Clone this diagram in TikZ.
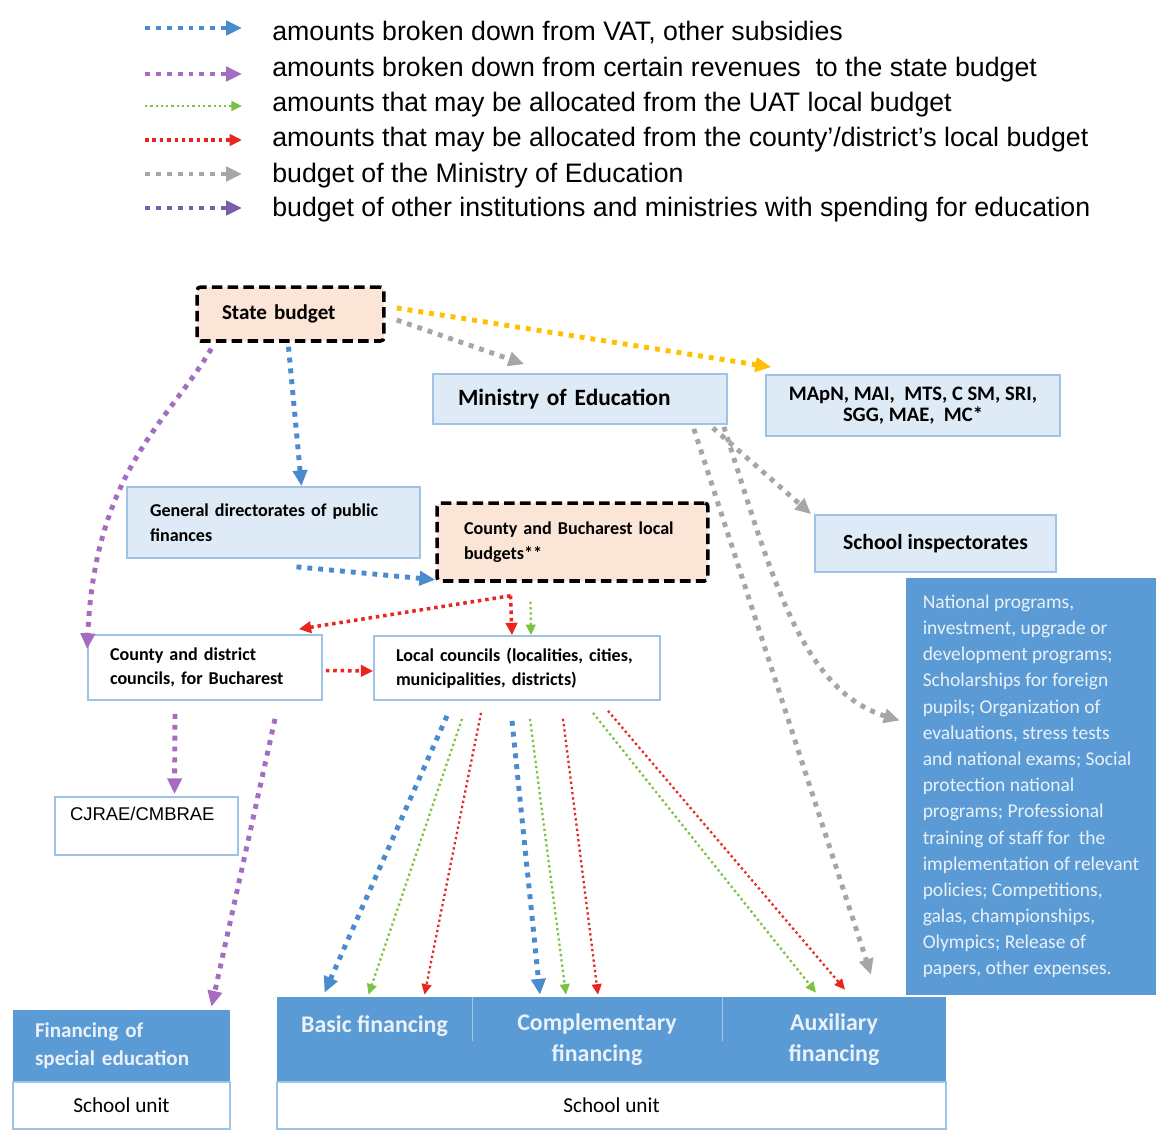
\documentclass[tikz,border=0pt]{standalone}
\usepackage{fontspec}
\setmainfont{Carlito}
\newfontfamily\legendfont{Liberation Sans}
\usetikzlibrary{arrows.meta,calc,positioning}
\definecolor{FlowBlue}{HTML}{4A8BD0}
\definecolor{FlowLilac}{HTML}{A56CC1}
\definecolor{FlowGreen}{HTML}{7CC242}
\definecolor{FlowRed}{HTML}{E8261E}
\definecolor{FlowGray}{HTML}{A6A6A6}
\definecolor{FlowPlum}{HTML}{7A5CAA}
\definecolor{FlowAmber}{HTML}{FFC000}
\definecolor{BoxFill}{HTML}{DEEBF7}
\definecolor{BoxLine}{HTML}{9DC3E6}
\definecolor{Peach}{HTML}{FBE5D6}
\definecolor{StrongBlue}{HTML}{5B9BD5}
\definecolor{PaleText}{HTML}{EAF1F9}
\tikzset{
  every node/.style={font=\bfseries\fontsize{10.3}{14}\selectfont, text=black},
  lightbox/.style={draw=BoxLine, fill=BoxFill, line width=1pt},
  whitebox/.style={draw=BoxLine, fill=white, line width=1pt},
  peachbox/.style={draw=black, fill=Peach, line width=2pt, dash pattern=on 6pt off 3pt, rounded corners=2pt},
  bluebox/.style={fill=StrongBlue, text=PaleText},
  thickflow/.style={line width=2.8pt, dash pattern=on 2.8pt off 3.4pt, -{Triangle[length=9pt,width=8pt]}},
  midflow/.style={line width=2pt, dash pattern=on 2pt off 2.2pt, -{Triangle[length=7pt,width=6.5pt]}},
  thinflow/.style={line width=1.3pt, dash pattern=on 1.3pt off 1.7pt, -{Triangle[length=6pt,width=5.5pt]}},
  vatflow/.style={thickflow, draw=FlowBlue},
  revflow/.style={thickflow, draw=FlowLilac},
  uatflow/.style={thinflow, draw=FlowGreen},
  countyflow/.style={midflow, draw=FlowRed},
  countythin/.style={thinflow, draw=FlowRed},
  mineduflow/.style={thickflow, draw=FlowGray},
  otherflow/.style={thickflow, draw=FlowPlum},
  amberflow/.style={thickflow, draw=FlowAmber},
}

\begin{document}
\begin{tikzpicture}[x=0.02cm,y=-0.02cm]
  \useasboundingbox (0,0) rectangle (1156,1129);
  % legend
  \foreach \n/\ly/\ty/\lstyle/\ltext in {
      1/28/33/vatflow/{amounts broken down from VAT, other subsidies},
      2/74/70/revflow/{amounts broken down from certain revenues\ \ to the state budget},
      3/106/105/uatflow/{amounts that may be allocated from the UAT local budget},
      4/140/140/countyflow/{amounts that may be allocated from the county’/district’s local budget},
      5/174/176/mineduflow/{budget of the Ministry of Education},
      6/208/210/otherflow/{budget of other institutions and ministries with spending for education}} {
    \coordinate (leg\n a) at (145,\ly);
    \coordinate (leg\n b) at (242,\ly);
    \draw[\lstyle] (leg\n a) -- (leg\n b);
    \node[anchor=west, inner sep=0pt, font=\legendfont\fontsize{15.2}{17}\selectfont] (legtext\n) at (272,\ty) {\ltext};
  }

  % budget boxes
  \node[peachbox, minimum width=3.74cm, minimum height=1.08cm, inner xsep=0.5cm, text width=2.74cm, align=left,
        font=\bfseries\fontsize{12}{14}\selectfont] (state) at (290.5,314) {State budget};
  \node[lightbox, minimum width=5.88cm, minimum height=1cm, inner xsep=0.5cm, text width=4.88cm, align=left,
        font=\bfseries\fontsize{13.3}{15}\selectfont] (ministry) at (580,399) {Ministry of Education};
  \node[lightbox, minimum width=5.88cm, minimum height=1.22cm, align=center,
        font=\bfseries\fontsize{11.7}{12}\selectfont] (mapn) at (913,405.5) {MApN, MAI,\ \ MTS, C SM, SRI,\\SGG, MAE,\ \ MC*};
  \node[lightbox, minimum width=5.86cm, minimum height=1.42cm, inner xsep=0.46cm, text width=4.94cm, align=left]
        (gendir) at (273.5,522.5) {General directorates of public\\finances};
  \node[peachbox, minimum width=5.42cm, minimum height=1.56cm, inner xsep=0.54cm, text width=4.34cm, align=left]
        (cbbudget) at (572.5,542) {County and Bucharest local\\budgets**};
  \node[lightbox, minimum width=4.82cm, minimum height=1.14cm, align=center,
        font=\bfseries\fontsize{12.3}{14}\selectfont] (inspect) at (935.5,543.5) {School inspectorates};
  \node[bluebox, minimum width=5cm, minimum height=8.34cm, inner sep=0pt, align=left,
        font=\fontsize{11.1}{14.9}\selectfont] (programs) at (1031,786.5)
        {National programs,\\investment, upgrade or\\development programs;\\Scholarships for foreign\\pupils; Organization of\\evaluations, stress tests\\and national exams; Social\\protection national\\programs; Professional\\training of staff for\ \ the\\implementation of relevant\\policies; Competitions,\\galas, championships,\\Olympics; Release of\\papers, other expenses.};

  % councils
  \node[whitebox, minimum width=4.68cm, minimum height=1.3cm, inner xsep=0.44cm, text width=3.8cm, align=left]
        (cdcouncil) at (205,667.5) {County and district\\councils, for Bucharest};
  \node[whitebox, minimum width=5.72cm, minimum height=1.28cm, inner xsep=0.44cm, text width=4.84cm, align=left]
        (local) at (517,668) {Local councils (localities, cities,\\municipalities, districts)};
  \node[whitebox, minimum width=3.66cm, minimum height=1.16cm, inner xsep=0.3cm, text width=3.06cm, align=left,
        font=\legendfont\fontsize{10.5}{13.5}\selectfont] (cjrae) at (146.5,826) {CJRAE/CMBRAE\\\mbox{}};

  % financing and school units
  \node[bluebox, minimum width=4.34cm, minimum height=1.44cm, inner xsep=0.44cm, text width=3.46cm, align=left,
        font=\bfseries\fontsize{12}{16}\selectfont] (special) at (121.5,1046) {Financing of\\special education};
  \node[whitebox, minimum width=4.34cm, minimum height=0.94cm, font=\fontsize{12.1}{13}\selectfont]
        (specunit) at (121.5,1105.5) {School unit};
  \node[bluebox, minimum width=3.9cm, minimum height=1.7cm, align=center,
        font=\bfseries\fontsize{13.6}{17.6}\selectfont] (basic) at (374.5,1039.5) {Basic financing\\\mbox{}};
  \node[bluebox, minimum width=5cm, minimum height=1.7cm, align=center,
        font=\bfseries\fontsize{13.6}{17.6}\selectfont] (compl) at (597,1039.5) {Complementary\\financing};
  \node[bluebox, minimum width=4.48cm, minimum height=1.7cm, align=center,
        font=\bfseries\fontsize{13.6}{17.6}\selectfont] (aux) at (834,1039.5) {Auxiliary\\financing};
  \draw[PaleText, opacity=0.5, line width=0.6pt] (basic.north east) -- ++(0,44);
  \draw[PaleText, opacity=0.5, line width=0.6pt] (compl.north east) -- ++(0,44);
  \node[whitebox, minimum width=13.38cm, minimum height=0.94cm, font=\fontsize{12.1}{13}\selectfont]
        (unit) at (611.5,1105.5) {School unit};

  % flows from the state budget
  \draw[amberflow] ($(state.east)+(11,-6)$) -- ($(mapn.north west)+(6,-7)$);
  \draw[mineduflow] ($(state.east)+(11,6)$) -- ($(ministry.north west)+(92,-9)$);
  \draw[vatflow] ($(state.south)+(-2,4)$) -- ($(gendir.north)+(28,0)$);
  \draw[revflow] ($(state.south west)+(16,6)$) .. controls (170,420) and (95,470) .. ($(cdcouncil.north west)+(0,15)$);
  \draw[vatflow] ($(gendir.south)+(23,8)$) -- ($(cbbudget.south west)+(0,-3)$);

  % flows from county budgets
  \draw[countyflow] ($(cbbudget.south)+(-62,13)$) -- ($(cdcouncil.north east)+(-24,-5)$);
  \draw[countyflow] ($(cbbudget.south)+(-62,13)$) -- ($(local.north)+(-5,0)$);
  \draw[uatflow] ($(cbbudget.south)+(-42,19)$) -- ($(local.north)+(14,0)$);
  \draw[countyflow] ($(cdcouncil.east)+(3,3)$) -- ($(local.west)+(0,3)$);
  \draw[revflow] ($(cdcouncil.south)+(-30,13)$) -- ($(cjrae.north)+(28,-2)$);
  \draw[revflow] ($(cdcouncil.south)+(70,18)$) -- ($(special.north)+(90,-3)$);

  % flows from local councils
  \draw[vatflow] ($(local.south)+(-70,15)$) -- ($(basic.north)+(-50,-4)$);
  \draw[uatflow] ($(local.south)+(-55,18)$) -- ($(basic.north)+(-6,-2)$);
  \draw[countythin] ($(local.south)+(-36,12)$) -- ($(basic.north)+(50,-2)$);
  \draw[vatflow] ($(local.south)+(-5,20)$) -- ($(compl.north)+(-57,-2)$);
  \draw[uatflow] ($(local.south)+(13,18)$) -- ($(compl.north)+(-31,-2)$);
  \draw[countythin] ($(local.south)+(46,18)$) -- ($(compl.north)+(1,-2)$);
  \draw[uatflow] ($(local.south)+(76,12)$) -- ($(aux.north)+(-18,-4)$);
  \draw[countythin] ($(local.south)+(91,10)$) -- ($(aux.north)+(11,-7)$);

  % flows from the ministry
  \draw[mineduflow] ($(ministry.south east)+(-15,3)$) -- ($(inspect.north west)+(-3,0)$);
  \draw[mineduflow] ($(ministry.south east)+(-4,2)$) .. controls (770,570) and (800,690) .. ($(programs.west)+(-6,-66)$);
  \draw[mineduflow] ($(ministry.south east)+(-34,4)$) -- ($(aux.north)+(37,-22)$);
\end{tikzpicture}
\end{document}
